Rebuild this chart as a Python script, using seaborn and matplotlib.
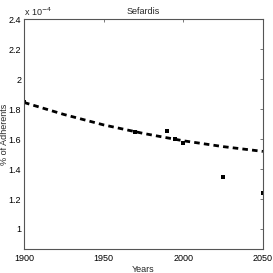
import matplotlib
matplotlib.use("Agg")
import matplotlib.pyplot as plt
import seaborn as sns
import numpy as np
import pandas as pd
from matplotlib.ticker import FuncFormatter

# Observed data (units of 1e-4 %)
obs_years = [1900, 1970, 1990, 1995, 2000, 2025, 2050]
obs_vals = [1.85, 1.645, 1.652, 1.603, 1.574, 1.35, 1.239]

# Fitted curve (units of 1e-4 %)
fit_years = [1900, 1925, 1950, 1975, 2000, 2025, 2050]
fit_vals = [1.845, 1.765, 1.695, 1.638, 1.589, 1.55, 1.518]

title = "Sefardis"
xlabel = "Years"
ylabel = "% of Adherents"
xticks = [1900, 1950, 2000, 2050]
yticks = [1.0, 1.2, 1.4, 1.6, 1.8, 2.0, 2.2, 2.4]

sns.set_style("white")
plt.rcParams['font.family'] = ['Liberation Sans', 'DejaVu Sans']

obs = pd.DataFrame({"year": obs_years, "val": np.array(obs_vals) * 1e-4})
fit = pd.DataFrame({"year": fit_years, "val": np.array(fit_vals) * 1e-4})

fig = plt.figure(figsize=(2.73, 2.73), dpi=100)
ax = fig.add_axes([0.088, 0.089, 0.875, 0.84])

sns.lineplot(data=fit, x="year", y="val", ax=ax, color="black", linewidth=2.0,
             linestyle=(0, (2, 1.5)))
sns.scatterplot(data=obs, x="year", y="val", ax=ax, color="black", marker="s",
                s=12, linewidth=0)

ax.set_xlim(1900, 2050)
ax.set_ylim(0.868e-4, 2.4e-4)
ax.set_xticks(xticks)
ax.set_yticks([v * 1e-4 for v in yticks])
ax.yaxis.set_major_formatter(FuncFormatter(lambda v, p: f"{v/1e-4:g}"))
ax.tick_params(direction="in", length=2, width=0.5, labelsize=6.5, colors="#444444",
               labelcolor="black", top=True, right=True, pad=2)
ax.tick_params(axis="x", pad=4)
for s in ax.spines.values():
    s.set_linewidth(0.8)
    s.set_color("#555555")
ax.set_title(title, fontsize=6.5, pad=4)
ax.set_xlabel(xlabel, fontsize=6.5, labelpad=1)
ax.set_ylabel(ylabel, fontsize=6.5)
ax.yaxis.set_label_coords(-0.064, 0.5)
ax.text(0.0, 1.005, "x 10$^{-4}$", transform=ax.transAxes, fontsize=6.5,
        ha="left", va="bottom")

fig.savefig("out.png", dpi=100)
